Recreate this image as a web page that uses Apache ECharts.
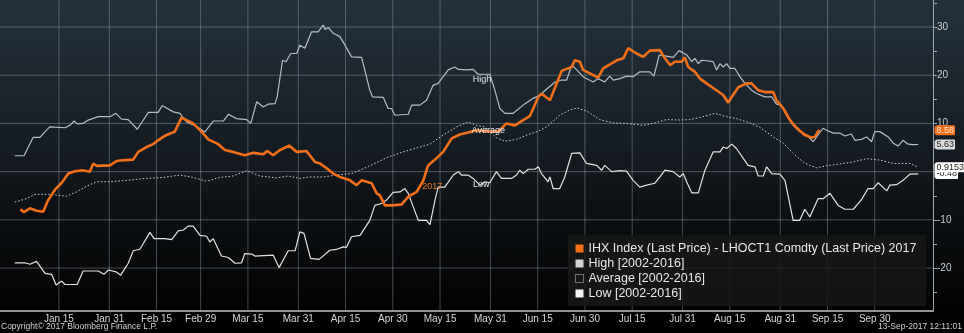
<!DOCTYPE html>
<html>
<head>
<meta charset="utf-8">
<script src="https://cdn.jsdelivr.net/npm/echarts@6/dist/echarts.min.js"></script>
<style>
  html, body { margin: 0; padding: 0; background: #000; }
  #chart {
    width: 964px; height: 333px;
    background: linear-gradient(to bottom, #24313c 0px, #19222a 110px, #0d1114 210px, #030303 305px, #000 333px);
  }
</style>
</head>
<body>
<div id="chart"></div>
<script>
// Seasonal x axis: day of year on a leap-year calendar
const tickDays = [15, 31, 46, 60, 75, 91, 106, 121, 136, 152, 167, 182, 197, 213, 228, 244, 259, 274];
const tickLabels = ['Jan 15', 'Jan 31', 'Feb 15', 'Feb 29', 'Mar 15', 'Mar 31', 'Apr 15', 'Apr 30', 'May 15',
  'May 31', 'Jun 15', 'Jun 30', 'Jul 15', 'Jul 31', 'Aug 15', 'Aug 31', 'Sep 15', 'Sep 30'];
const yLabelValues = [-20, -10, 10, 20, 30];
const yGridValues = [-20, -10, 0, 10, 20, 30];
const yTickValues = [-25, -20, -15, -10, -5, 0, 5, 10, 15, 20, 25, 30, 35];

const nameSpread = 'IHX Index (Last Price) - LHOCT1 Comdty (Last Price) 2017';
const nameHigh = 'High [2002-2016]';
const nameAvg = 'Average [2002-2016]';
const nameLow = 'Low [2002-2016]';

// [day of year, spread]
const spread2017 = [[2.8,-7.8],[3.9,-8.4],[5.8,-7.6],[7.9,-8.1],[10.0,-8.3],[11.6,-5.9],[13.7,-3.8],[15.9,-2.3],[18.0,-0.4],[20.1,0.1],[22.5,0.3],[24.8,0.0],[25.9,1.7],[27.0,1.2],[31.2,1.3],[33.3,2.2],[36.0,2.4],[38.6,2.5],[40.2,4.1],[42.8,5.1],[44.9,5.7],[46.5,6.5],[48.1,7.2],[49.2,7.6],[51.8,8.3],[53.9,11.2],[55.5,10.7],[57.6,10.0],[60.3,8.3],[62.4,6.7],[65.6,5.7],[67.7,4.5],[70.3,4.1],[74.0,3.4],[76.7,3.9],[79.9,3.6],[81.1,4.3],[83.0,3.4],[85.2,4.5],[88.1,5.4],[90.5,4.1],[93.6,4.3],[96.3,2.0],[97.9,1.7],[100.0,0.7],[102.1,-0.4],[104.2,-1.1],[107.4,-1.8],[109.5,-2.8],[111.1,-1.8],[114.3,-2.4],[115.9,-4.5],[116.9,-4.9],[118.5,-7.0],[120.6,-7.0],[123.8,-6.8],[125.9,-5.2],[128.6,-4.2],[130.7,-1.8],[132.2,1.3],[134.4,2.5],[137.0,4.1],[139.7,6.9],[142.3,7.7],[144.9,8.1],[147.6,8.6],[151.8,8.3],[154.5,8.3],[157.1,10.0],[159.8,9.6],[162.4,10.7],[164.5,11.5],[167.2,15.5],[168.2,16.2],[170.9,14.8],[174.6,20.9],[177.8,21.7],[178.8,23.1],[180.4,22.8],[181.4,21.1],[186.2,19.5],[187.8,21.4],[192.1,23.1],[194.2,23.5],[195.7,25.6],[198.4,24.5],[200.5,23.8],[202.6,25.1],[205.8,25.2],[207.4,23.5],[209.0,22.1],[210.6,22.8],[212.7,22.8],[213.7,23.7],[214.8,21.7],[216.9,20.7],[218.5,19.3],[220.6,18.3],[223.3,17.1],[225.9,15.9],[227.5,14.3],[228.6,15.5],[230.7,17.5],[233.3,18.3],[234.9,18.3],[237.0,16.9],[239.1,16.5],[241.8,16.5],[242.8,14.8],[245.0,13.1],[247.1,10.7],[248.7,9.4],[250.2,8.5],[251.8,7.6],[253.9,7.1],[255.0,7.2],[256.0,8.3],[256.6,8.58]];

const high = [[1.0,3.3],[3.9,3.3],[6.8,7.1],[9.0,7.1],[10.6,8.3],[12.1,9.3],[16.9,9.1],[18.5,9.6],[19.8,10.5],[20.8,9.9],[22.7,10.0],[24.3,10.7],[27.5,11.4],[31.2,11.4],[33.1,12.1],[34.9,10.9],[37.0,10.8],[39.9,8.8],[43.4,12.3],[46.5,12.3],[47.8,13.7],[48.3,13.7],[51.3,12.4],[53.4,12.1],[55.5,10.3],[58.9,9.3],[61.3,8.2],[64.0,10.5],[67.2,10.5],[68.8,11.9],[71.4,11.0],[74.6,10.8],[75.9,10.0],[77.8,14.5],[79.9,13.4],[81.4,14.0],[83.6,14.1],[84.3,15.5],[86.0,23.1],[87.1,22.8],[88.6,24.5],[90.5,24.5],[91.5,26.2],[93.1,25.6],[95.2,29.0],[97.3,29.0],[98.9,30.4],[99.5,29.5],[100.5,29.9],[102.1,28.7],[104.2,28.0],[105.5,26.6],[107.9,23.8],[111.1,23.7],[113.7,16.9],[114.6,15.5],[118.0,15.4],[119.5,13.1],[120.6,13.1],[121.7,11.7],[125.9,11.9],[127.0,13.8],[129.6,13.8],[131.7,14.8],[133.8,17.9],[135.4,18.3],[138.6,21.1],[140.7,21.7],[141.8,21.2],[144.4,21.1],[146.5,21.2],[148.1,20.2],[151.8,20.2],[153.4,16.9],[155.0,13.1],[156.6,12.1],[159.2,12.1],[162.4,13.8],[165.6,15.2],[167.7,15.9],[169.8,17.1],[172.5,18.6],[174.6,19.0],[176.2,19.0],[177.8,22.1],[179.4,21.1],[181.4,19.7],[184.6,18.6],[186.2,19.3],[188.3,18.6],[189.9,19.8],[191.0,19.0],[193.1,19.3],[195.2,19.8],[197.3,19.7],[199.4,20.7],[202.6,20.7],[203.9,19.8],[205.6,24.2],[207.4,24.0],[210.0,23.7],[211.9,25.1],[214.3,24.2],[215.9,22.8],[216.9,23.5],[218.0,22.4],[219.0,23.1],[220.6,23.0],[222.7,22.8],[223.8,21.1],[224.9,22.4],[225.9,21.7],[227.0,22.4],[228.0,21.4],[229.6,21.4],[231.2,19.7],[232.8,18.3],[234.9,16.9],[236.5,16.2],[239.1,15.5],[241.3,15.5],[242.8,14.0],[244.4,13.8],[246.0,11.7],[248.1,9.6],[250.2,8.3],[252.4,7.6],[254.5,6.2],[256.0,7.6],[257.6,9.0],[258.7,8.6],[260.8,8.0],[262.9,8.0],[264.5,7.4],[266.6,7.8],[267.7,6.5],[269.8,6.7],[271.4,7.2],[273.0,6.2],[274.0,8.3],[275.6,8.3],[278.3,7.2],[279.9,5.9],[281.4,5.3],[283.0,6.5],[284.6,5.7],[286.2,5.6],[287.8,5.63]];

const average = [[1.0,-6.3],[4.7,-5.6],[7.4,-4.7],[12.1,-4.7],[17.4,-5.1],[20.6,-4.2],[23.8,-3.0],[27.0,-2.1],[31.2,-2.1],[36.5,-1.8],[42.8,-1.4],[48.1,-1.2],[53.4,-0.7],[57.6,-1.2],[61.9,-2.0],[66.1,-1.2],[70.3,-0.9],[74.6,0.2],[78.8,-0.9],[84.1,-1.3],[87.8,-0.9],[91.5,-1.4],[94.7,-1.1],[98.9,-1.1],[103.2,-0.7],[107.9,-0.4],[113.7,1.2],[119.0,2.9],[124.3,4.1],[129.6,5.1],[132.8,5.7],[137.0,7.6],[141.3,9.3],[144.9,10.3],[147.6,9.6],[150.2,9.3],[151.8,8.3],[154.0,7.0],[156.6,6.3],[160.3,6.7],[164.0,7.7],[167.2,8.4],[169.8,9.3],[174.0,11.7],[177.2,12.8],[179.4,13.2],[182.5,12.6],[186.7,10.8],[191.0,10.1],[195.2,10.0],[200.5,9.6],[203.7,10.0],[207.9,10.8],[212.1,10.7],[215.3,10.8],[219.5,11.4],[223.3,12.1],[227.0,11.4],[230.1,11.0],[234.4,10.1],[237.5,9.2],[241.8,7.2],[245.0,5.9],[248.1,3.8],[251.3,2.0],[253.4,1.3],[255.5,0.8],[258.7,1.2],[262.9,1.6],[267.2,2.0],[271.4,2.7],[275.6,2.4],[279.9,1.7],[285.2,1.7],[287.8,0.9153]];

const low = [[1.0,-18.9],[4.2,-18.9],[5.8,-19.2],[7.9,-18.6],[10.6,-21.1],[12.7,-21.3],[14.1,-23.5],[15.9,-22.7],[16.9,-23.4],[20.8,-23.4],[22.7,-20.6],[27.5,-20.6],[29.3,-21.3],[30.7,-20.4],[33.2,-20.8],[34.6,-21.5],[37.0,-19.0],[38.6,-16.4],[40.7,-16.1],[43.9,-12.6],[45.2,-13.9],[48.7,-13.9],[50.8,-14.1],[52.9,-12.3],[54.5,-12.1],[56.0,-11.3],[57.6,-11.3],[59.8,-13.2],[61.9,-13.4],[62.9,-14.6],[64.0,-13.9],[66.6,-17.5],[68.8,-17.8],[70.9,-19.0],[73.0,-18.9],[74.0,-17.0],[76.2,-17.1],[77.2,-17.5],[83.0,-17.3],[84.9,-19.9],[87.8,-16.4],[90.0,-16.4],[91.5,-12.5],[92.8,-12.8],[94.9,-18.0],[97.6,-18.2],[101.0,-16.3],[103.2,-16.1],[105.3,-15.6],[106.3,-15.7],[107.9,-13.5],[110.6,-13.2],[113.7,-10.1],[115.3,-7.0],[117.4,-6.6],[119.0,-5.9],[121.1,-4.3],[123.3,-4.2],[124.8,-3.5],[125.9,-4.5],[129.1,-10.1],[131.7,-10.1],[132.8,-11.0],[134.4,-5.9],[135.4,-3.2],[137.5,-3.2],[140.2,-0.7],[141.8,0.0],[142.8,-0.7],[144.9,-0.7],[146.5,-1.4],[148.7,-2.8],[150.2,-2.1],[151.8,-2.3],[153.9,0.0],[155.5,-1.4],[158.7,-1.4],[160.3,-0.7],[161.3,0.3],[162.4,-0.4],[164.0,0.5],[166.1,0.5],[167.2,1.0],[168.2,-0.4],[169.3,-1.3],[170.3,-2.1],[170.9,-1.1],[171.9,-3.5],[174.0,-3.5],[175.6,-1.1],[177.8,3.8],[180.4,3.9],[182.5,1.7],[185.7,1.3],[187.3,0.3],[188.3,1.3],[190.5,0.0],[193.1,0.2],[195.2,0.1],[197.3,-1.8],[199.4,-3.2],[201.6,-2.8],[204.2,-2.4],[205.8,-1.1],[207.4,0.3],[210.0,0.0],[212.1,-1.1],[213.2,-0.4],[214.3,-2.1],[215.9,-4.4],[218.0,-4.4],[220.1,0.3],[222.7,4.1],[224.9,4.1],[225.9,5.1],[227.0,4.8],[228.6,5.7],[230.1,4.8],[233.8,1.3],[236.0,1.0],[237.0,-0.9],[238.6,-0.9],[239.7,1.0],[241.3,-0.4],[243.9,-0.5],[245.5,-1.8],[248.1,-10.1],[250.2,-10.1],[251.8,-7.8],[253.4,-9.4],[256.0,-5.6],[257.6,-5.6],[259.8,-4.5],[262.4,-7.0],[264.5,-7.8],[267.2,-7.8],[269.8,-5.8],[271.9,-3.5],[273.5,-3.5],[275.1,-2.3],[277.8,-4.0],[278.8,-2.8],[280.9,-2.7],[283.0,-1.8],[285.2,-0.5],[287.8,-0.48]];

const X_MIN = -3.7, X_MAX = 292.5;
const Y_MIN = -28.9, Y_MAX = 35.6;

const ORANGE = '#f36f17';
const FONT = '"Liberation Sans", Arial, sans-serif';
const NARROW = '"Liberation Sans Narrow", "Liberation Sans", Arial, sans-serif';

const last = arr => arr[arr.length - 1];

// Value tag at the right-hand axis showing a series' latest value
function lastValueTag(arr, bg, fg, z) {
  const v = last(arr)[1];
  return {
    z: z,
    silent: true,
    symbol: 'circle',
    symbolSize: 1,
    itemStyle: { color: 'rgba(0,0,0,0)' },
    label: {
      show: true, position: 'right', distance: 1,
      formatter: String(v),
      backgroundColor: bg, color: fg,
      fontFamily: NARROW, fontSize: 9,
      padding: [1, 1, 0, 2], borderRadius: [3, 1, 1, 3]
    },
    data: [{ coord: [X_MAX, v] }]
  };
}

// Series name written onto the line itself
function inlineName(text, day, value, color) {
  return {
    silent: true, symbol: 'circle', symbolSize: 1, z: 6,
    itemStyle: { color: 'rgba(0,0,0,0)' },
    label: { show: true, position: 'inside', formatter: text, color: color, fontFamily: FONT, fontSize: 9 },
    data: [{ coord: [day, value] }]
  };
}

// Grid: one thin line series per grid line, spanning the axis range
const GRID_STYLE = { color: 'rgba(175,185,195,0.38)', width: 1, type: 'solid' };
function gridSeries(points) {
  return {
    type: 'line', data: points, silent: true, z: 2,
    showSymbol: false, symbol: 'none', animation: false,
    lineStyle: GRID_STYLE, emphasis: { disabled: true }
  };
}
const gridLines = yGridValues.map(v => gridSeries([[X_MIN, v], [X_MAX, v]]))
  .concat(tickDays.map(d => gridSeries([[d, Y_MIN], [d, Y_MAX]])));

const chart = echarts.init(document.getElementById('chart'), null, { renderer: 'canvas' });

const option = {
  backgroundColor: 'transparent',
  animation: false,
  grid: { left: 0, right: 31, top: 0, bottom: 22 },
  xAxis: {
    type: 'value', min: X_MIN, max: X_MAX,
    splitLine: { show: false },
    axisLine: { show: true, onZero: false, lineStyle: { color: '#bfc3c6', width: 1.5 } },
    axisTick: { show: false },
    axisLabel: {
      customValues: tickDays,
      formatter: v => tickLabels[tickDays.indexOf(v)],
      color: '#d6d6d6', fontSize: 10, fontFamily: NARROW, margin: 3
    }
  },
  yAxis: {
    type: 'value', position: 'right', min: Y_MIN, max: Y_MAX,
    splitLine: { show: false },
    axisLine: { show: true, onZero: false, lineStyle: { color: '#9da5ac', width: 1 } },
    axisTick: { show: true, customValues: yTickValues, length: 4, lineStyle: { color: '#9da5ac' } },
    axisLabel: { customValues: yLabelValues, color: '#c9cdd0', fontSize: 10, fontFamily: NARROW, margin: 4 }
  },
  legend: {
    orient: 'vertical', left: 568, top: 235,
    selectedMode: false,
    icon: 'rect', itemWidth: 8, itemHeight: 8, itemGap: 2,
    backgroundColor: 'rgba(24,24,24,0.82)',
    padding: [7, 10, 6, 7],
    textStyle: { color: '#e8e8e8', fontSize: 12.5, fontFamily: FONT, lineHeight: 13 },
    data: [
      { name: nameSpread, itemStyle: { color: ORANGE } },
      { name: nameHigh, itemStyle: { color: '#d4d4d4' } },
      { name: nameAvg, itemStyle: { color: 'rgba(0,0,0,0)', borderColor: '#cfcfcf', borderWidth: 1, borderType: [1, 1] } },
      { name: nameLow, itemStyle: { color: '#f2f2f2' } }
    ]
  },
  graphic: [
    { type: 'text', left: 1, top: 322, silent: true,
      style: { text: 'Copyright\u00a9 2017 Bloomberg Finance L.P.', fill: '#d2d2d2', font: '8.5px ' + FONT } },
    { type: 'text', right: 2, top: 322, silent: true,
      style: { text: '13-Sep-2017 12:11:01', fill: '#d2d2d2', font: '8.5px ' + FONT } }
  ],
  series: gridLines.concat([
    {
      name: nameLow, type: 'line', data: low, showSymbol: false, symbol: 'none', z: 3,
      lineStyle: { color: '#e2e2e2', width: 1.2 }, itemStyle: { color: '#f2f2f2' },
      markPoint: lastValueTag(low, '#ffffff', '#222', 10)
    },
    {
      name: nameAvg, type: 'line', data: average, showSymbol: false, symbol: 'none', z: 3,
      lineStyle: { color: '#cfd3d6', width: 1, type: [1.5, 2] }, itemStyle: { color: '#cfcfcf' },
      markPoint: lastValueTag(average, '#ffffff', '#222', 11)
    },
    {
      name: nameHigh, type: 'line', data: high, showSymbol: false, symbol: 'none', z: 4,
      lineStyle: { color: '#b4bdc5', width: 1.2 }, itemStyle: { color: '#d4d4d4' },
      markPoint: lastValueTag(high, '#dcdcdc', '#222', 12)
    },
    {
      name: nameSpread, type: 'line', data: spread2017, showSymbol: false, symbol: 'none', z: 5,
      lineStyle: { color: ORANGE, width: 2.6 }, itemStyle: { color: ORANGE },
      markPoint: lastValueTag(spread2017, ORANGE, '#ffe6d6', 13)
    },
    // inline series names
    { name: 'labelHigh', type: 'line', data: [], silent: true, z: 6, markPoint: inlineName('High', 149.3, 19.2, '#dfe3e6') },
    { name: 'labelAvg', type: 'line', data: [], silent: true, z: 6, markPoint: inlineName('Average', 151.3, 8.5, '#f0f0f0') },
    { name: 'label2017', type: 'line', data: [], silent: true, z: 6, markPoint: inlineName('2017', 133.5, -3.0, '#e8762a') },
    { name: 'labelLow', type: 'line', data: [], silent: true, z: 6, markPoint: inlineName('Low', 149.1, -2.6, '#e6e6e6') }
  ])
};

chart.setOption(option);
</script>
</body>
</html>
